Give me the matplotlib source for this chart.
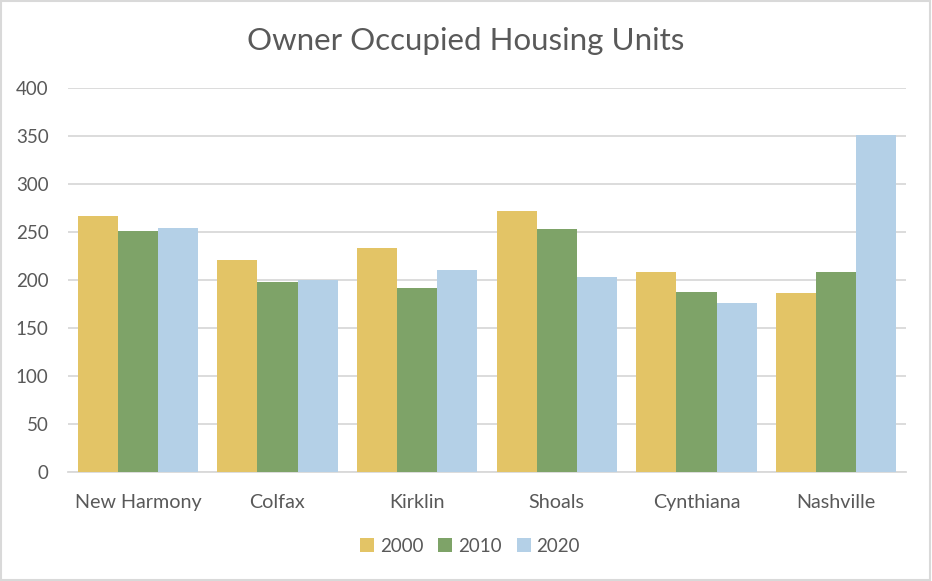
import matplotlib.pyplot as plt
import numpy as np

towns = ['New Harmony', 'Colfax', 'Kirklin', 'Shoals', 'Cynthiana', 'Nashville']
years = ['2000', '2010', '2020']
units_2000 = [267, 221, 233, 272, 208, 186]
units_2010 = [251, 198, 192, 253, 187, 208]
units_2020 = [254, 200, 210, 203, 176, 351]
colors = ['#E3C466', '#7EA368', '#B4D0E7']

plt.rcParams['font.family'] = ['Lato', 'DejaVu Sans']
txt = '#595959'

fig = plt.figure(figsize=(9.32, 5.81), dpi=100)
ax = fig.add_axes([68/932, 1-472/581, 838/932, 384/581])

x = np.arange(len(towns))
w = 0.287
for i, (vals, c, lab) in enumerate(zip([units_2000, units_2010, units_2020], colors, years)):
    ax.bar(x + (i-1)*w, vals, w, color=c, label=lab, zorder=3)

ax.set_xlim(-0.5, len(towns)-0.5)
ax.set_ylim(0, 400)
ax.set_yticks(range(0, 401, 50))
ax.yaxis.grid(True, color='#D9D9D9', linewidth=1.3, zorder=0)
for s in ['top', 'right', 'left']:
    ax.spines[s].set_visible(False)
ax.spines['bottom'].set_color('#D9D9D9')
ax.spines['bottom'].set_linewidth(1.3)
ax.tick_params(length=0, labelsize=13.5, colors=txt)
ax.tick_params(axis='y', pad=14)
ax.tick_params(axis='x', pad=16, labelsize=14.2)
ax.set_xticks(x)
ax.set_xticklabels(towns)

fig.text(0.5, 1-41/581, 'Owner Occupied Housing Units', ha='center', va='center',
         fontsize=22.5, color=txt)
ax.legend(loc='center', bbox_to_anchor=(470/932, 1-546/581), bbox_transform=fig.transFigure,
          ncol=3, frameon=False, fontsize=13.5, handlelength=0.75, handleheight=0.75,
          handletextpad=0.3, columnspacing=0.8, labelcolor=txt)

fig.patches.append(plt.Rectangle((0.001, 0.001), 0.997, 0.997, transform=fig.transFigure,
                                 fill=False, edgecolor='#D9D9D9', linewidth=1.5))
fig.savefig('out.png', dpi=100)
